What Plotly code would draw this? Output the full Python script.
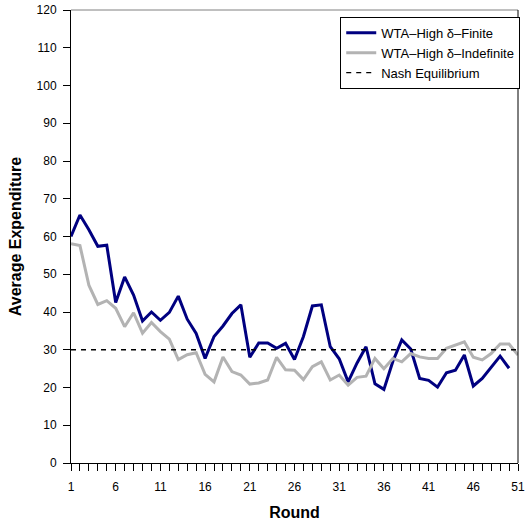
import plotly.graph_objects as go

rounds_finite = list(range(1, 51))
rounds_indef = list(range(1, 52))

finite = [60.0, 65.7, 61.8, 57.4, 57.7, 42.5, 49.3, 44.5, 37.6, 40.0,
          37.8, 39.9, 44.2, 38.1, 34.3, 27.7, 33.5, 36.3, 39.6, 41.9,
          28.0, 31.8, 31.8, 30.4, 31.7, 27.4, 33.5, 41.6, 41.9, 30.8,
          27.6, 21.5, 26.5, 30.8, 21.0, 19.5, 26.9, 32.6, 30.2, 22.4,
          21.9, 20.1, 23.9, 24.6, 28.6, 20.4, 22.4, 25.5, 28.3, 25.1]

indefinite = [58.1, 57.6, 47.1, 42.0, 43.0, 41.0, 36.1, 39.8, 34.4, 37.2,
              34.8, 32.8, 27.4, 28.7, 29.2, 23.5, 21.5, 28.1, 24.2, 23.3,
              20.9, 21.2, 22.0, 28.0, 24.7, 24.6, 22.1, 25.5, 26.8, 22.0,
              23.3, 20.6, 22.7, 23.0, 27.7, 25.0, 27.7, 26.8, 29.0, 28.1,
              27.7, 27.7, 30.4, 31.2, 32.1, 28.0, 27.3, 29.0, 31.5, 31.5,
              28.6]

nash_x = [1, 51]
nash_y = [30, 30]

x_tickvals = list(range(1, 52))
x_ticktext = [str(v) if (v - 1) % 5 == 0 else "" for v in x_tickvals]
y_tickvals = list(range(0, 121, 10))

font_family = "Liberation Sans, Arial, sans-serif"

fig = go.Figure()
fig.add_trace(go.Scatter(x=rounds_finite, y=finite, mode="lines",
                         name="WTA\u2013High \u03b4\u2013Finite",
                         line=dict(color="#000080", width=3)))
fig.add_trace(go.Scatter(x=rounds_indef, y=indefinite, mode="lines",
                         name="WTA\u2013High \u03b4\u2013Indefinite",
                         line=dict(color="#b3b3b3", width=3)))
fig.add_trace(go.Scatter(x=nash_x, y=nash_y, mode="lines",
                         name="Nash Equilibrium",
                         line=dict(color="black", width=1.3, dash="5px,5px")))

fig.update_layout(
    width=526, height=525,
    margin=dict(l=71, r=8, t=10, b=62, autoexpand=False),
    paper_bgcolor="white", plot_bgcolor="white",
    font=dict(family=font_family, size=12, color="black"),
    showlegend=True,
    legend=dict(x=1.005, y=0.985, xanchor="right", yanchor="top",
                bgcolor="white", bordercolor="black", borderwidth=1,
                font=dict(size=13), tracegroupgap=0, itemwidth=30),
    xaxis=dict(range=[1, 51], tickmode="array", tickvals=x_tickvals,
               ticktext=x_ticktext, ticks="outside", ticklen=7,
               tickcolor="black", tickwidth=1, ticklabelstandoff=6,
               showline=True, linecolor="black", linewidth=1,
               showgrid=False, zeroline=False, mirror=False, automargin=False,
               title=dict(text="<b>Round</b>", font=dict(size=16), standoff=13)),
    yaxis=dict(range=[0, 120], tickmode="array", tickvals=y_tickvals,
               ticks="outside", ticklen=7, tickcolor="black", tickwidth=1,
               ticklabelstandoff=4,
               showline=True, linecolor="black", linewidth=1,
               showgrid=False, zeroline=False, mirror=False, automargin=False,
               title=dict(text="<b>Average Expenditure</b>", font=dict(size=16), standoff=10)),
    shapes=[
        dict(type="line", xref="paper", yref="paper", x0=0, x1=1, y0=1, y1=1,
             line=dict(color="#808080", width=1)),
        dict(type="line", xref="paper", yref="paper", x0=1, x1=1, y0=0, y1=1,
             line=dict(color="black", width=1)),
    ],
)

fig.write_html("out.html", config={"displayModeBar": False},
               post_script="document.body.style.margin='0';document.body.style.padding='0';")
